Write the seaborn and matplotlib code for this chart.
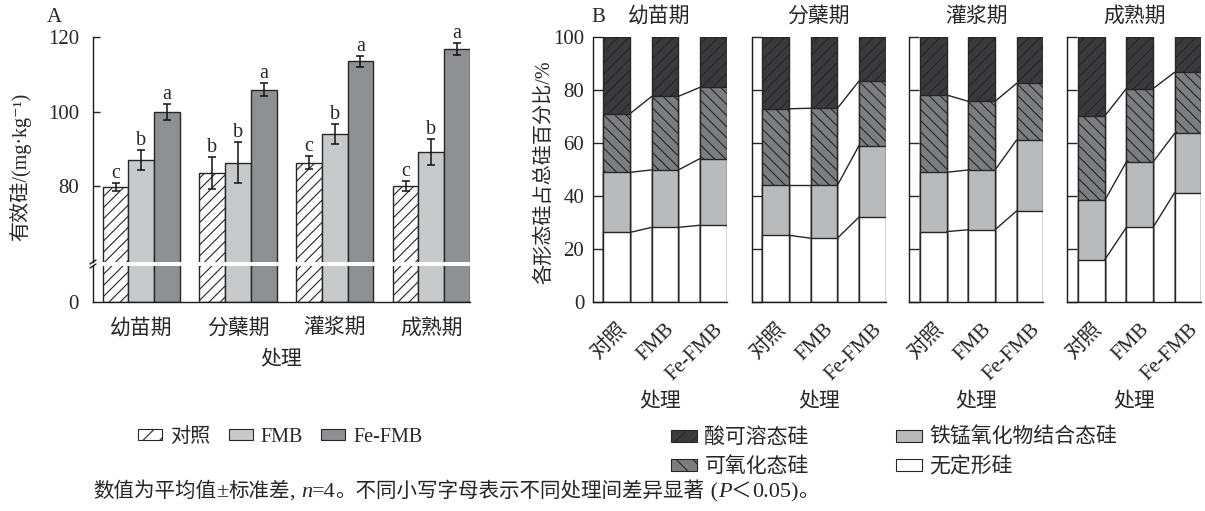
import numpy as np
import pandas as pd
import matplotlib
matplotlib.use("Agg")
import matplotlib.pyplot as plt
import matplotlib.transforms as mtransforms
from matplotlib.patches import Patch
from matplotlib.lines import Line2D
import seaborn as sns

# ---------------- data ----------------
stages = ["幼苗期", "分蘖期", "灌浆期", "成熟期"]
treatments = ["对照", "FMB", "Fe-FMB"]

# available Si (mg·kg-1): mean, SD and significance letters per stage
si_ck = [79.8, 83.4, 86.3, 80.1]
si_fmb = [87.1, 86.3, 94.0, 89.2]
si_fefmb = [100.0, 105.9, 113.5, 116.8]
sd_ck = [1.0, 4.3, 1.7, 1.4]
sd_fmb = [2.7, 5.5, 2.8, 3.5]
sd_fefmb = [2.2, 1.7, 1.4, 1.6]
let_ck = ["c", "b", "c", "c"]
let_fmb = ["b", "b", "b", "b"]
let_fefmb = ["a", "a", "a", "a"]

# Si fractions (% of total Si), per stage, treatments in order 对照 / FMB / Fe-FMB
fractions = ["无定形硅", "铁锰氧化物结合态硅", "可氧化态硅", "酸可溶态硅"]
amorphous = {"幼苗期": [26.3, 28.2, 29.0], "分蘖期": [25.2, 24.1, 32.1],
             "灌浆期": [26.6, 27.3, 34.4], "成熟期": [16.0, 28.2, 41.3]}
femn_oxide = {"幼苗期": [22.7, 21.7, 25.2], "分蘖期": [18.9, 20.0, 27.0],
              "灌浆期": [22.4, 22.6, 26.8], "成熟期": [22.4, 24.7, 22.4]}
oxidizable = {"幼苗期": [22.2, 27.8, 26.9], "分蘖期": [28.9, 29.1, 24.4],
              "灌浆期": [29.2, 25.9, 21.4], "成熟期": [31.9, 27.7, 23.1]}
acid_soluble = {"幼苗期": [28.8, 22.3, 18.9], "分蘖期": [27.0, 26.8, 16.5],
                "灌浆期": [21.8, 24.2, 17.4], "成熟期": [29.7, 19.4, 13.2]}

# ---------------- style ----------------
sns.set_theme(style="white")
plt.rcParams["font.family"] = ["Liberation Serif", "Noto Sans CJK SC", "DejaVu Sans"]
plt.rcParams["axes.unicode_minus"] = False
plt.rcParams["hatch.linewidth"] = 0.8

EDGE = "#262626"
A_COLORS = ["#ffffff", "#c8c9cb", "#8f9093"]
A_HATCH = ["///", "", ""]
B_COLORS = ["#ffffff", "#b9babc", "#7c7d80", "#3a3a3c"]   # bottom -> top
B_HATCH = ["", "", "\\\\\\", "///"]

W, H = 1205, 511
fig = plt.figure(figsize=(W / 100, H / 100), dpi=100)
fig.patch.set_facecolor("white")


def fx(px):
    return px / W


def fy(py):
    return 1 - py / H


# ---------------- panel A: broken-axis grouped bars ----------------
means = {"对照": si_ck, "FMB": si_fmb, "Fe-FMB": si_fefmb}
sds = {"对照": sd_ck, "FMB": sd_fmb, "Fe-FMB": sd_fefmb}
letters = {"对照": let_ck, "FMB": let_fmb, "Fe-FMB": let_fefmb}
dfA = pd.DataFrame([(s, t, means[t][i]) for t in treatments for i, s in enumerate(stages)],
                   columns=["stage", "treatment", "si"])

a_left, a_right = 93, 470
axA_top = fig.add_axes([fx(a_left), fy(262), fx(a_right) - fx(a_left), fy(37.3) - fy(262)])
axA_bot = fig.add_axes([fx(a_left), fy(302), fx(a_right) - fx(a_left), fy(266) - fy(302)])

for ax in (axA_top, axA_bot):
    sns.barplot(data=dfA, x="stage", y="si", hue="treatment", order=stages,
                hue_order=treatments, palette=A_COLORS, saturation=1, errorbar=None,
                width=0.8, edgecolor=EDGE, linewidth=1.0, legend=False, ax=ax)
    for cont, hatch in zip(ax.containers, A_HATCH):
        for bar in cont:
            bar.set_hatch(hatch)
    ax.set_xlim(-0.5, 3.4)
    ax.set_xlabel("")
    ax.set_ylabel("")
    ax.spines["top"].set_visible(False)
    ax.spines["right"].set_visible(False)
    for sp in ax.spines.values():
        sp.set_color("#1a1a1a")
        sp.set_linewidth(1.0)

axA_top.set_ylim(59.6, 120)
axA_bot.set_ylim(0, 9.68)
axA_top.spines["bottom"].set_visible(False)
axA_top.set_yticks([80, 100, 120])
axA_top.set_xticks([])
axA_top.tick_params(axis="y", direction="in", length=5, width=1, labelsize=15, pad=10, left=True)
axA_bot.set_yticks([0])
axA_bot.tick_params(axis="y", direction="in", length=0, labelsize=15, pad=10, left=True)
axA_bot.set_xticks(range(len(stages)))
axA_bot.set_xticklabels(stages, fontsize=15)
axA_bot.tick_params(axis="x", length=0, pad=12)

for cont, t in zip(axA_top.containers, treatments):
    xs = [b.get_x() + b.get_width() / 2 for b in cont]
    axA_top.errorbar(xs, means[t], yerr=sds[t], fmt="none", ecolor="#111111",
                     elinewidth=1.1, capsize=3, capthick=1.1, zorder=5)
    for x, m, s, lab in zip(xs, means[t], sds[t], letters[t]):
        axA_top.text(x, m + s, lab, ha="center", va="bottom", fontsize=14.5, zorder=6)

# break marks on the y axis
for yb in (262, 266):
    fig.add_artist(Line2D([fx(a_left - 3), fx(a_left + 3)], [fy(yb + 2), fy(yb - 2)],
                          color="#1a1a1a", lw=1.0))

fig.text(fx(54), fy(17), "A", fontsize=15, ha="center", va="center")
fig.text(fx(20), fy(167), "有效硅/(mg·kg⁻¹)", rotation=90, fontsize=14.5,
         ha="center", va="center")
fig.text(fx((a_left + a_right) / 2), fy(361), "处理", fontsize=15, ha="center", va="center")

legA = [Patch(facecolor=c, edgecolor=EDGE, hatch=h.replace("///", "//"), linewidth=0.8)
        for c, h in zip(A_COLORS, A_HATCH)]
fig.legend(legA, treatments, loc="center left", bbox_to_anchor=(fx(138), fy(437)),
           ncol=3, frameon=False, fontsize=14.5, handlelength=1.2, handleheight=0.5,
           handletextpad=0.4, columnspacing=0.9, borderaxespad=0, borderpad=0)

# ---------------- panel B: stacked Si fractions ----------------
b_lefts = [592.7, 751.7, 909.3, 1067.3]
b_width = 134
bar_w = 0.553
label_shift = mtransforms.ScaledTranslation(5 / 100, 0, fig.dpi_scale_trans)
for i, stage in enumerate(stages):
    ax = fig.add_axes([fx(b_lefts[i]), fy(302), b_width / W, fy(37.3) - fy(302)])
    layers = np.array([amorphous[stage], femn_oxide[stage], oxidizable[stage], acid_soluble[stage]])
    cum = np.cumsum(layers, axis=0)
    # draw tallest cumulative layer first so lower fractions sit on top of it
    for k in (3, 2, 1, 0):
        sns.barplot(x=treatments, y=cum[k], order=treatments, color=B_COLORS[k],
                    saturation=1, width=bar_w, edgecolor=EDGE, linewidth=1.0, ax=ax)
        for bar in ax.containers[-1]:
            bar.set_hatch(B_HATCH[k])
    # series lines linking fraction boundaries of neighbouring bars
    for k in range(3):
        for j in range(len(treatments) - 1):
            ax.plot([j + bar_w / 2, j + 1 - bar_w / 2], [cum[k][j], cum[k][j + 1]],
                    color=EDGE, lw=1.0, zorder=4)
    ax.set_xlim(-0.5, 2 + bar_w / 2)
    ax.set_ylim(0, 100)
    ax.set_yticks(range(0, 101, 20))
    ax.spines["top"].set_visible(False)
    ax.spines["right"].set_visible(False)
    for sp in ax.spines.values():
        sp.set_color("#1a1a1a")
        sp.set_linewidth(1.0)
    ax.tick_params(axis="y", direction="in", length=7, width=1, labelsize=15, pad=6, left=True,
                   labelleft=(i == 0))
    ax.set_xticks(range(len(treatments)))
    ax.set_xticklabels(treatments, rotation=45, ha="right", rotation_mode="anchor", fontsize=15)
    for lab in ax.get_xticklabels():
        lab.set_transform(lab.get_transform() + label_shift)
    ax.tick_params(axis="x", length=0, pad=13)
    ax.set_xlabel("")
    ax.set_ylabel("")
    cx = b_lefts[i] + b_width / 2
    fig.text(fx(cx), fy(17), stage, fontsize=15, ha="center", va="center")
    fig.text(fx(cx), fy(403), "处理", fontsize=15, ha="center", va="center")

fig.text(fx(598), fy(17), "B", fontsize=15, ha="center", va="center")
fig.text(fx(545), fy(172), "各形态硅占总硅百分比/%", rotation=90, fontsize=14.5,
         ha="center", va="center")

legB_order = [3, 2, 1, 0]
legB = [Patch(facecolor=B_COLORS[k], edgecolor=EDGE,
              hatch=B_HATCH[k].replace("///", "//").replace("\\\\\\", "\\\\"),
              linewidth=0.8) for k in legB_order]
fig.legend(legB, [fractions[k] for k in legB_order], loc="upper left",
           bbox_to_anchor=(fx(671), fy(428)), ncol=2, frameon=False, fontsize=15,
           handlelength=1.25, handleheight=0.5, handletextpad=0.35, columnspacing=4.2,
           labelspacing=0.45, borderaxespad=0, borderpad=0)

# ---------------- footnote with italic symbols ----------------
ax_note = fig.add_axes([0, 0, 1, 1])
ax_note.set_axis_off()
CJK_SIZE, LAT_SIZE = 14.8, 16
ital = dict(family="Liberation Serif", style="italic", fontsize=LAT_SIZE)
lat = dict(fontsize=LAT_SIZE)
cjk = dict(fontsize=CJK_SIZE)
pieces = [("数值为平均值", cjk), ("±", lat), ("标准差", cjk), (", ", lat), ("n", ital),
          ("=4", lat), ("。不同小写字母表示不同处理间差异显著", cjk), (" (", lat), ("P", ital),
          ("＜", cjk), ("0.05)", lat), ("。", cjk)]
prev = ax_note.text(fx(93), fy(502), pieces[0][0], va="bottom", ha="left",
                    transform=ax_note.transAxes, **pieces[0][1])
for txt, kw in pieces[1:]:
    prev = ax_note.annotate(txt, xy=(1, 0), xycoords=prev, va="bottom", ha="left", **kw)

fig.savefig("out.png", dpi=100, facecolor="white")
